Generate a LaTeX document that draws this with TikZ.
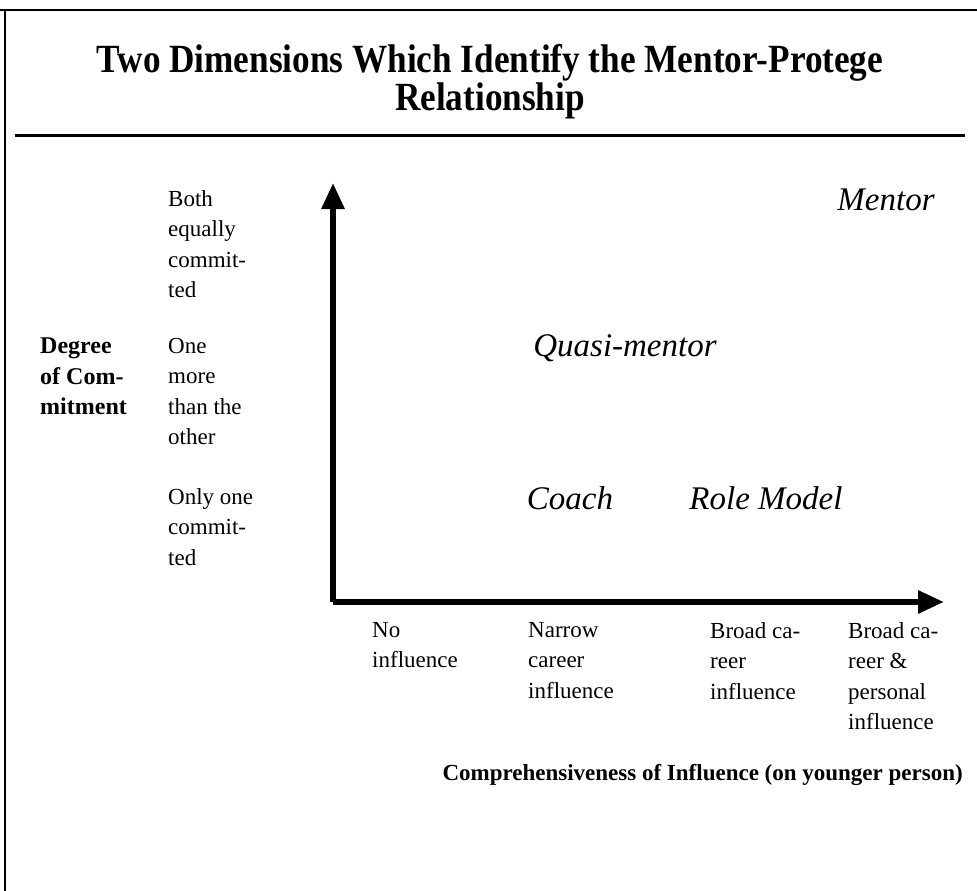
\documentclass[tikz,border=0pt]{standalone}
\usepackage{fontspec}
\setmainfont{Liberation Serif}
\newfontfamily\titlefont[FakeStretch=0.88]{Liberation Serif}
\usetikzlibrary{arrows.meta}
\tikzset{
  frameline/.style={line width=2pt},
  ruleline/.style={line width=3pt},
  axisline/.style={line width=6pt, -{Triangle[length=26pt,width=22pt]}},
  lbl/.style={anchor=north west, inner sep=0pt, align=left, font=\fontsize{23}{30.5}\selectfont},
  blbl/.style={lbl, font=\bfseries\fontsize{24}{30.5}\selectfont},
  role/.style={anchor=center, inner sep=0pt, font=\itshape\fontsize{33}{36}\selectfont},
  titlestyle/.style={anchor=center, inner sep=0pt, align=center, font=\titlefont\bfseries\fontsize{40}{38}\selectfont},
}
\begin{document}
\begin{tikzpicture}[x=1pt,y=-1pt]
\useasboundingbox (0,0) rectangle (977,891);
% frame
\coordinate (ftl) at (0,10);
\coordinate (ftr) at (977,10);
\coordinate (flt) at (5,10);
\coordinate (flb) at (5,891);
\draw[frameline] (ftl) -- (ftr);
\draw[frameline] (flt) -- (flb);
% title
\node[titlestyle] (title) at (490,82) {Two Dimensions Which Identify the Mentor-Protege\\Relationship};
\coordinate (rl) at (15,135);
\coordinate (rr) at (965,135);
\draw[ruleline] (rl) -- (rr);
% axes
\coordinate (origin) at (333,602);
\coordinate (ytip) at (333,183);
\coordinate (xtip) at (944,602);
\draw[axisline] (origin) -- (ytip);
\draw[axisline] (origin) -- (xtip);
% vertical axis labels
\node[blbl] (deg) at (40,338) {Degree\\of Com-\\mitment};
\node[lbl] (both) at (168,190) {Both\\equally\\commit-\\ted};
\node[lbl] (onemore) at (168,338) {One\\more\\than the\\other};
\node[lbl] (onlyone) at (168,488) {Only one\\commit-\\ted};
% horizontal axis labels
\node[lbl] (noinf) at (372,622) {No\\influence};
\node[lbl] (narrow) at (528,622) {Narrow\\career\\influence};
\node[lbl] (broad) at (710,622) {Broad ca-\\reer\\influence};
\node[lbl] (broadp) at (848,622) {Broad ca-\\reer \&\\personal\\influence};
\node[anchor=east, inner sep=0pt, font=\bfseries\fontsize{23}{28}\selectfont] (comp) at (963,775) {Comprehensiveness of Influence (on younger person)};
% roles
\node[role] (mentor) at (886,200) {Mentor};
\node[role] (quasi) at (625,348) {Quasi-mentor};
\node[role] (coach) at (570,498) {Coach};
\node[role] (rolemodel) at (766,498) {Role Model};
\end{tikzpicture}
\end{document}
